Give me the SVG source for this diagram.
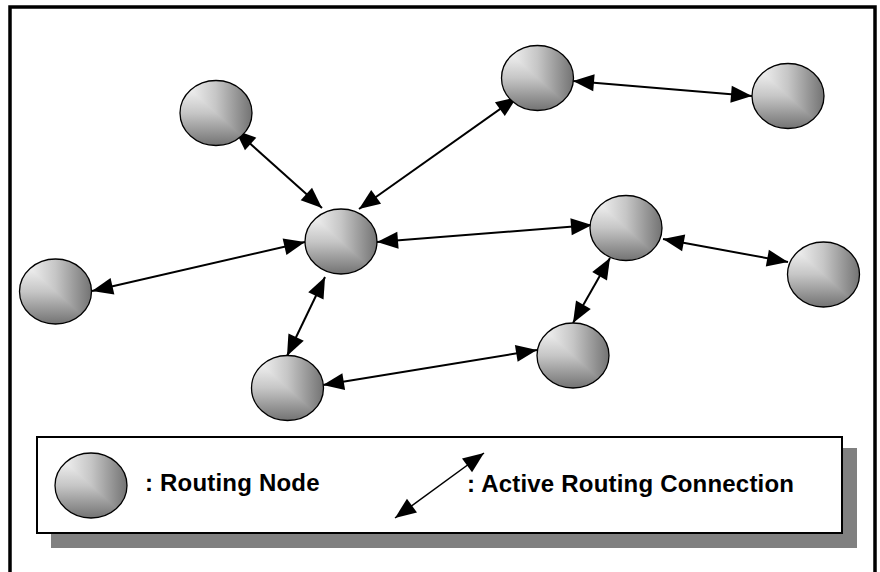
<svg xmlns="http://www.w3.org/2000/svg" xmlns:xlink="http://www.w3.org/1999/xlink" width="880" height="572" viewBox="0 0 880 572">
  <style>
    .link { fill: none; stroke: #000; stroke-width: 2; marker-start: url(#head); marker-end: url(#head); }
    .label { font-family: "Liberation Sans", Arial, sans-serif; font-weight: bold; font-size: 24px; letter-spacing: 0.2px; fill: #000; }
  </style>
  <defs>
    <!-- shaded routing node: horizontal shade in the upper-right half, vertical shade in the lower-left half -->
    <linearGradient id="shadeH" gradientUnits="userSpaceOnUse" x1="-36" y1="0" x2="36" y2="0">
      <stop offset="0" stop-color="#ffffff"/>
      <stop offset="0.5" stop-color="#c6c6c6"/>
      <stop offset="1" stop-color="#737373"/>
    </linearGradient>
    <linearGradient id="shadeV" gradientUnits="userSpaceOnUse" x1="0" y1="-32.5" x2="0" y2="32.5">
      <stop offset="0" stop-color="#ffffff"/>
      <stop offset="0.5" stop-color="#c6c6c6"/>
      <stop offset="1" stop-color="#737373"/>
    </linearGradient>
    <clipPath id="ballClip">
      <ellipse cx="0" cy="0" rx="36" ry="32.5"/>
    </clipPath>
    <g id="ball">
      <g clip-path="url(#ballClip)">
        <rect x="-37" y="-34" width="74" height="68" fill="url(#shadeV)"/>
        <polygon points="-36,-32.5 37,-34 37,32.5 36,32.5" fill="url(#shadeH)"/>
      </g>
      <ellipse cx="0" cy="0" rx="36" ry="32.5" fill="none" stroke="#000" stroke-width="1.3"/>
    </g>
    <marker id="head" markerUnits="userSpaceOnUse" markerWidth="21" markerHeight="17" refX="21" refY="8.5" orient="auto-start-reverse" overflow="visible">
      <path d="M0,0 L21,8.5 L0,17 z" fill="#000"/>
    </marker>
  </defs>

  <rect width="880" height="572" fill="#fff"/>
  <!-- outer frame -->
  <rect x="10" y="7" width="865" height="580" fill="none" stroke="#000" stroke-width="3.5"/>

  <!-- connectors -->
  <g id="connectors">
    <line class="link" x1="235" y1="130" x2="322" y2="208"/>
    <line class="link" x1="359" y1="209" x2="517" y2="97"/>
    <line class="link" x1="573" y1="81" x2="752" y2="96"/>
    <line class="link" x1="92" y1="291" x2="305" y2="242"/>
    <line class="link" x1="377" y1="242" x2="592" y2="225"/>
    <line class="link" x1="325" y1="277" x2="287" y2="356"/>
    <line class="link" x1="663" y1="239" x2="788" y2="262"/>
    <line class="link" x1="610" y1="258" x2="573" y2="323"/>
    <line class="link" x1="323" y1="385" x2="537" y2="350"/>
  </g>

  <!-- routing nodes -->
  <g id="node-top-left"><use xlink:href="#ball" x="216" y="113"/></g>
  <g id="node-center"><use xlink:href="#ball" x="341" y="241.5"/></g>
  <g id="node-top-mid"><use xlink:href="#ball" x="537.5" y="78"/></g>
  <g id="node-top-right"><use xlink:href="#ball" x="788" y="96"/></g>
  <g id="node-left"><use xlink:href="#ball" x="55.5" y="291.5"/></g>
  <g id="node-mid-right"><use xlink:href="#ball" x="626" y="228"/></g>
  <g id="node-far-right"><use xlink:href="#ball" x="823.5" y="274.5"/></g>
  <g id="node-bottom-left"><use xlink:href="#ball" x="287.5" y="388"/></g>
  <g id="node-bottom-right"><use xlink:href="#ball" x="573" y="355.5"/></g>

  <!-- legend -->
  <g id="legend">
    <rect x="51" y="448" width="806" height="100" fill="#808080"/>
    <rect x="37" y="437" width="805" height="96" fill="#fff" stroke="#000" stroke-width="2"/>
    <use xlink:href="#ball" x="91" y="485.5"/>
    <text class="label" x="145" y="491">: Routing Node</text>
    <line class="link" style="stroke-width:1.5" x1="484" y1="453" x2="395" y2="518"/>
    <text class="label" x="467" y="492">: Active Routing Connection</text>
  </g>
</svg>
